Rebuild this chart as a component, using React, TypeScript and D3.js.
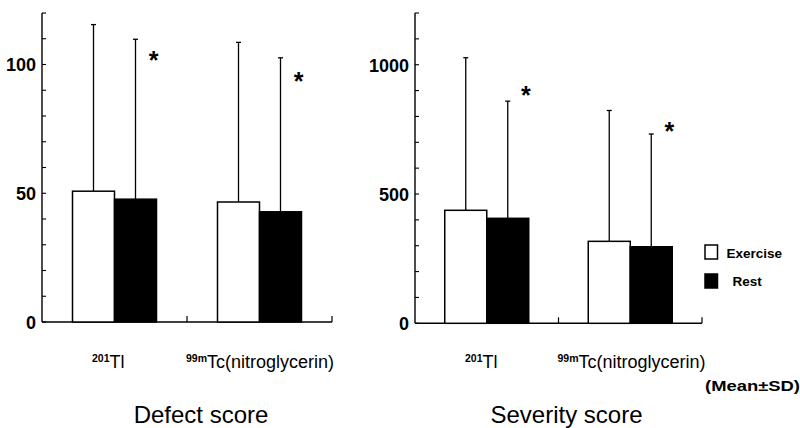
import React from 'react';
import * as d3 from 'd3';

// categories and series
const categories = ['201Tl', '99mTc(nitroglycerin)'];
const isotopeSup = ['201', '99m'];
const isotopeName = ['Tl', 'Tc(nitroglycerin)'];
const series = ['Exercise', 'Rest'];

// Defect score (mean, SD)
const defectExerciseMean = [50.8, 46.6];
const defectExerciseSD = [64.7, 62.0];
const defectRestMean = [47.7, 42.8];
const defectRestSD = [62.1, 59.8];
const defectStars = [103.5, 95.7];

// Severity score (mean, SD)
const severityExerciseMean = [437, 317];
const severityExerciseSD = [590, 506];
const severityRestMean = [406, 296];
const severityRestSD = [453, 436];
const severityStars = [902, 763];

const FONT = '"Liberation Sans", Arial, sans-serif';

type PanelProps = {
  x0: number; x1: number; yBase: number; yTop: number;
  max: number; step: number; labelStep: number;
  exMean: number[]; exSD: number[]; rsMean: number[]; rsSD: number[]; stars: number[];
  title: string; titleShift: number;
};

function Panel(p: PanelProps) {
  var y = d3.scaleLinear().domain([0, p.max]).range([p.yBase, p.yTop]);
  var x = d3.scaleBand().domain(categories).range([p.x0, p.x1]).padding(0);
  var ticks = d3.range(0, p.max + p.step / 2, p.step);
  var labelOffsets = [50, -1]; // label start relative to band start

  return (
    <g>
      {/* y axis */}
      <line x1={p.x0} x2={p.x0} y1={p.yBase} y2={p.yTop} stroke="#000" strokeWidth={1.4} />
      {ticks.map(t => (
        <line key={'t' + t} x1={p.x0} x2={p.x0 + 4} y1={y(t)} y2={y(t)} stroke="#000" strokeWidth={1.1} />
      ))}
      {ticks.filter(t => t % p.labelStep === 0).map(t => (
        <text key={'l' + t} x={p.x0 - 6} y={y(t)} dy="0.38em" textAnchor="end"
          fontFamily={FONT} fontWeight="bold" fontSize={18}>{t}</text>
      ))}
      {/* baseline */}
      <line x1={p.x0} x2={p.x1} y1={p.yBase} y2={p.yBase} stroke="#000" strokeWidth={1.4} />
      {categories.map((c, i) => {
        var bx = (x(c) as number) + x.bandwidth();
        return <line key={'bt' + i} x1={bx} x2={bx} y1={p.yBase} y2={p.yBase - 6} stroke="#000" strokeWidth={1.2} />;
      })}
      {categories.map((c, i) => {
        var center = (x(c) as number) + x.bandwidth() / 2;
        var inner = d3.scaleBand().domain(series).range([center - 42, center + 42]).padding(0);
        var means = [p.exMean[i], p.rsMean[i]];
        var sds = [p.exSD[i], p.rsSD[i]];
        return (
          <g key={c}>
            {series.map((s, j) => {
              var bx = inner(s) as number;
              var cx = bx + inner.bandwidth() / 2;
              return (
                <g key={s}>
                  <line x1={cx} x2={cx} y1={y(means[j])} y2={y(means[j] + sds[j])} stroke="#000" strokeWidth={1.3} />
                  <line x1={cx - 2.5} x2={cx + 2.5} y1={y(means[j] + sds[j])} y2={y(means[j] + sds[j])} stroke="#000" strokeWidth={1.3} />
                  <rect x={bx} y={y(means[j])} width={inner.bandwidth()} height={p.yBase - y(means[j])}
                    fill={j === 0 ? '#fff' : '#000'} stroke="#000" strokeWidth={1.5} />
                </g>
              );
            })}
            <text x={(inner('Rest') as number) + inner.bandwidth() / 2 + 18} y={y(p.stars[i]) + 14}
              textAnchor="middle" fontFamily={FONT} fontWeight="bold" fontSize={25}>*</text>
            <text x={(x(c) as number) + labelOffsets[i]} y={368} fontFamily={FONT}>
              <tspan fontSize={10.5} fontWeight="bold" dy={-6}>{isotopeSup[i]}</tspan>
              <tspan fontSize={18} dy={6}>{isotopeName[i]}</tspan>
            </text>
          </g>
        );
      })}
      <text x={(p.x0 + p.x1) / 2 + p.titleShift} y={423} textAnchor="middle" fontFamily={FONT} fontSize={24}>{p.title}</text>
    </g>
  );
}

export default function App() {
  return (
    <svg width={800} height={428} style={{ position: 'absolute', left: 0, top: 0, background: '#fff' }}>
      <Panel x0={42} x1={332} yBase={322} yTop={13} max={120} step={10} labelStep={50}
        exMean={defectExerciseMean} exSD={defectExerciseSD} rsMean={defectRestMean} rsSD={defectRestSD}
        stars={defectStars} title="Defect score" titleShift={14} />
      <Panel x0={415} x1={702} yBase={323.3} yTop={13} max={1200} step={100} labelStep={500}
        exMean={severityExerciseMean} exSD={severityExerciseSD} rsMean={severityRestMean} rsSD={severityRestSD}
        stars={severityStars} title="Severity score" titleShift={8} />
      {/* legend */}
      {series.map((s, i) => (
        <g key={s}>
          <rect x={705} y={245 + i * 29} width={12.5} height={14} fill={i === 0 ? '#fff' : '#000'} stroke="#000" strokeWidth={1.5} />
          <text x={i === 0 ? 726.5 : 732.5} y={257.5 + i * 28.5} fontFamily={FONT} fontWeight="bold" fontSize={13.5}>{s}</text>
        </g>
      ))}
      <text x={705} y={391} fontFamily={FONT} fontWeight="bold" fontSize={14} textLength={95} lengthAdjust="spacingAndGlyphs">(Mean±SD)</text>
    </svg>
  );
}
